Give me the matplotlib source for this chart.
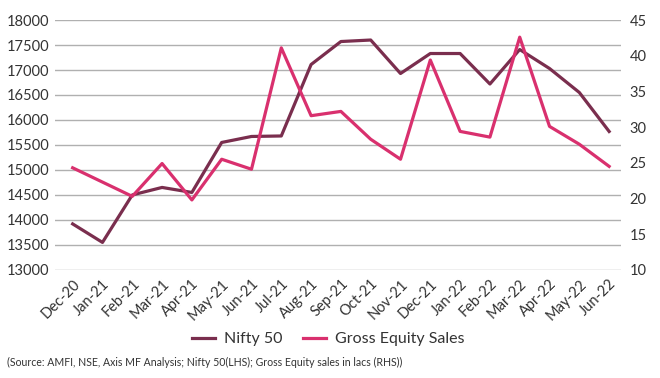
import matplotlib
matplotlib.use('Agg')
import matplotlib.pyplot as plt

plt.rcParams['font.family'] = ['Lato', 'DejaVu Sans']

months = ['Dec-20', 'Jan-21', 'Feb-21', 'Mar-21', 'Apr-21', 'May-21', 'Jun-21',
          'Jul-21', 'Aug-21', 'Sep-21', 'Oct-21', 'Nov-21', 'Dec-21', 'Jan-22',
          'Feb-22', 'Mar-22', 'Apr-22', 'May-22', 'Jun-22']
nifty = [13920, 13550, 14500, 14650, 14550, 15550, 15670, 15680, 17110, 17570,
         17600, 16930, 17330, 17330, 16720, 17410, 17030, 16550, 15770]
gross_sales = [24.3, 22.3, 20.3, 24.9, 19.8, 25.5, 24.1, 41.1, 31.6, 32.2,
               28.3, 25.5, 39.4, 29.4, 28.6, 42.6, 30.1, 27.6, 24.5]

c_nifty = '#7a2e4e'
c_sales = '#d9306e'

fig = plt.figure(figsize=(6.6, 3.78), dpi=100)
ax = fig.add_axes([0.083, 0.286, 0.858, 0.661])
ax2 = ax.twinx()

x = range(len(months))
l1, = ax.plot(x, nifty, color=c_nifty, lw=2.3, label='Nifty 50', zorder=3)
l2, = ax2.plot(x, gross_sales, color=c_sales, lw=2.3, label='Gross Equity Sales', zorder=3)

ax.set_ylim(13000, 18000)
ax.set_yticks(range(13000, 18001, 500))
ax2.set_ylim(10, 45)
ax2.set_yticks(range(10, 46, 5))
ax.set_xlim(-0.6, 18.4)
ax.set_xticks(list(x))
ax.set_xticklabels(months, rotation=45, ha='right', rotation_mode='anchor',
                   fontsize=9, color='#333333')

ax.grid(axis='y', color='#b0b0b0', lw=1)
ax.set_axisbelow(True)
for a in (ax, ax2):
    for s in a.spines.values():
        s.set_visible(False)
    a.tick_params(length=0, labelsize=10.5, colors='#333333')
ax.tick_params(axis='y', pad=4)
ax2.tick_params(axis='y', pad=6)
ax.tick_params(axis='x', pad=5)

fig.legend(handles=[l1, l2], loc='center', bbox_to_anchor=(0.497, 0.103), ncol=2,
           frameon=False, fontsize=11.5, handlelength=1.45, handletextpad=0.55,
           columnspacing=1.3, labelcolor='#333333')

fig.text(0.011, 0.032, '(Source: AMFI, NSE, Axis MF Analysis; Nifty 50(LHS); Gross Equity sales in lacs (RHS))',
         fontsize=7.6, color='#333333')

fig.savefig('out.png', dpi=100)
